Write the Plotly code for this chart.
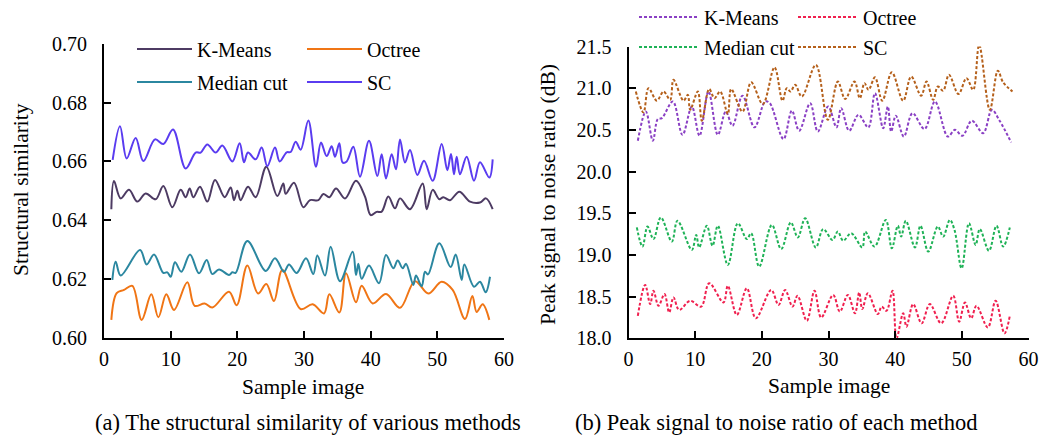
import plotly.graph_objects as go

# ---------------- (a) Structural similarity ----------------
ssim_kmeans_x = [1.1, 1.5, 2.5, 3.75, 5.0, 6.25, 7.75, 8.9, 10.25, 11.5, 12.25, 12.85, 13.4, 14.4, 15.5, 16.65, 18.1, 19.0, 19.5, 20.0, 20.5, 21.6, 22.75, 24.35, 26.0, 26.9, 27.25, 28.5, 29.9, 30.9, 32.15, 32.9, 33.8, 34.8, 36.15, 37.8, 39.15, 40.0, 40.9, 41.65, 42.65, 43.65, 44.4, 45.9, 47.8, 48.4, 49.3, 50.3, 50.9, 51.9, 53.3, 54.9, 56.4, 57.3, 58.3]
ssim_kmeans_y = [0.6437, 0.6533, 0.6474, 0.6503, 0.6463, 0.6491, 0.6471, 0.6516, 0.6444, 0.6503, 0.6478, 0.6508, 0.6478, 0.6514, 0.6463, 0.6537, 0.6478, 0.6511, 0.6468, 0.6500, 0.6468, 0.6514, 0.6478, 0.6582, 0.6482, 0.6525, 0.6490, 0.6527, 0.6444, 0.6468, 0.6468, 0.6489, 0.6478, 0.6508, 0.6474, 0.6534, 0.6480, 0.6417, 0.6428, 0.6429, 0.6480, 0.6440, 0.6474, 0.6437, 0.6525, 0.6437, 0.6503, 0.6471, 0.6478, 0.6468, 0.6497, 0.6463, 0.6460, 0.6474, 0.6437]

ssim_octree_x = [1.1, 1.9, 3.0, 4.25, 5.65, 7.1, 8.15, 9.35, 10.5, 12.5, 13.6, 15.1, 16.25, 18.75, 19.9, 21.5, 23.1, 24.35, 25.5, 26.75, 29.5, 31.3, 33.0, 33.8, 35.3, 36.3, 37.8, 38.65, 40.3, 42.3, 44.4, 46.65, 48.65, 50.65, 52.3, 54.15, 55.25, 55.9, 56.8, 57.8]
ssim_octree_y = [0.6060, 0.6151, 0.6162, 0.6176, 0.6060, 0.6147, 0.6069, 0.6147, 0.6094, 0.6188, 0.6108, 0.6116, 0.6102, 0.6156, 0.6110, 0.6245, 0.6150, 0.6182, 0.6124, 0.6230, 0.6097, 0.6113, 0.6082, 0.6147, 0.6085, 0.6219, 0.6120, 0.6176, 0.6116, 0.6148, 0.6101, 0.6192, 0.6150, 0.6190, 0.6162, 0.6063, 0.6141, 0.6087, 0.6113, 0.6060]

ssim_median_x = [1.25, 1.75, 2.5, 5.4, 6.4, 7.5, 8.9, 9.5, 10.0, 10.65, 11.6, 12.9, 14.25, 15.4, 16.25, 17.25, 18.75, 19.25, 19.75, 21.5, 24.25, 25.65, 27.0, 27.75, 28.9, 30.3, 31.4, 32.0, 33.15, 34.0, 35.4, 37.3, 37.8, 38.15, 38.65, 39.75, 41.25, 42.3, 43.4, 44.05, 44.8, 45.3, 46.4, 46.8, 47.65, 48.15, 48.6, 50.3, 52.0, 52.75, 53.65, 54.05, 55.5, 56.4, 57.25, 57.9]
ssim_median_y = [0.6196, 0.6258, 0.6211, 0.6298, 0.6249, 0.6283, 0.6220, 0.6222, 0.6207, 0.6256, 0.6224, 0.6283, 0.6219, 0.6264, 0.6216, 0.6232, 0.6213, 0.6222, 0.6220, 0.6329, 0.6227, 0.6270, 0.6224, 0.6249, 0.6220, 0.6270, 0.6216, 0.6279, 0.6211, 0.6309, 0.6192, 0.6292, 0.6213, 0.6251, 0.6200, 0.6245, 0.6185, 0.6281, 0.6236, 0.6262, 0.6236, 0.6251, 0.6179, 0.6211, 0.6175, 0.6224, 0.6215, 0.6321, 0.6240, 0.6283, 0.6196, 0.6249, 0.6173, 0.6190, 0.6154, 0.6207]

ssim_sc_x = [1.3, 2.4, 3.4, 4.75, 5.9, 7.65, 8.9, 10.35, 12.25, 13.75, 14.5, 15.5, 16.75, 17.75, 19.25, 20.35, 21.0, 21.6, 22.75, 23.65, 24.5, 25.65, 26.35, 27.4, 28.0, 28.75, 29.5, 30.65, 31.8, 32.55, 33.4, 34.15, 34.65, 35.3, 35.8, 36.4, 37.4, 38.4, 39.75, 41.0, 41.65, 42.3, 43.15, 43.8, 44.4, 45.15, 45.9, 47.0, 48.0, 49.3, 50.65, 51.5, 52.05, 52.5, 52.9, 53.4, 54.4, 55.5, 56.4, 57.8, 58.3]
ssim_sc_y = [0.6605, 0.6720, 0.6610, 0.6680, 0.6601, 0.6675, 0.6659, 0.6709, 0.6576, 0.6630, 0.6630, 0.6658, 0.6630, 0.6654, 0.6600, 0.6662, 0.6597, 0.6630, 0.6607, 0.6647, 0.6584, 0.6647, 0.6600, 0.6631, 0.6632, 0.6667, 0.6640, 0.6739, 0.6582, 0.6664, 0.6618, 0.6652, 0.6616, 0.6662, 0.6596, 0.6600, 0.6650, 0.6548, 0.6670, 0.6550, 0.6624, 0.6542, 0.6624, 0.6573, 0.6675, 0.6596, 0.6639, 0.6554, 0.6602, 0.6534, 0.6659, 0.6570, 0.6625, 0.6556, 0.6616, 0.6556, 0.6616, 0.6534, 0.6597, 0.6545, 0.6607]

# ---------------- (b) PSNR ----------------
psnr_kmeans_x = [1.4, 2.6, 3.65, 4.4, 5.0, 6.65, 8.1, 9.5, 10.65, 12.0, 13.4, 14.6, 15.6, 17.1, 18.9, 20.5, 21.2, 23.25, 24.5, 25.6, 27.25, 28.4, 29.95, 31.2, 31.9, 33.1, 34.5, 35.97, 36.97, 38.2, 38.9, 39.4, 40.1, 41.3, 42.6, 44.4, 45.97, 47.9, 48.97, 50.1, 51.5, 53.2, 54.5, 55.6, 57.4]
psnr_kmeans_y = [20.37, 20.72, 20.37, 20.63, 20.64, 20.84, 20.44, 20.78, 20.43, 20.96, 20.44, 20.72, 20.55, 20.91, 20.53, 20.84, 20.82, 20.39, 20.73, 20.49, 20.82, 20.48, 20.78, 20.53, 20.76, 20.49, 20.68, 20.53, 20.94, 20.52, 20.78, 20.48, 20.67, 20.42, 20.70, 20.51, 20.84, 20.42, 20.50, 20.43, 20.61, 20.46, 20.74, 20.62, 20.35]

psnr_octree_x = [1.4, 2.5, 3.25, 3.75, 4.5, 5.4, 6.1, 6.75, 7.6, 9.25, 10.9, 12.1, 14.25, 14.9, 16.25, 17.75, 19.1, 21.4, 22.5, 23.5, 24.6, 25.35, 26.75, 27.9, 28.9, 30.7, 31.7, 32.9, 33.97, 34.6, 35.07, 35.9, 37.4, 37.97, 38.7, 39.6, 40.2, 41.2, 41.7, 42.7, 43.97, 45.2, 46.9, 48.7, 49.6, 50.47, 51.4, 52.2, 53.9, 55.07, 56.4, 57.2]
psnr_octree_y = [18.27, 18.64, 18.41, 18.57, 18.39, 18.53, 18.31, 18.49, 18.34, 18.45, 18.38, 18.66, 18.43, 18.63, 18.28, 18.60, 18.24, 18.58, 18.40, 18.58, 18.38, 18.51, 18.21, 18.57, 18.25, 18.52, 18.32, 18.52, 18.30, 18.55, 18.35, 18.54, 18.29, 18.38, 18.33, 18.57, 18.00, 18.30, 18.14, 18.41, 18.18, 18.41, 18.18, 18.51, 18.20, 18.43, 18.24, 18.39, 18.13, 18.45, 18.06, 18.27]

psnr_median_x = [1.25, 2.1, 2.85, 3.75, 4.85, 6.5, 7.35, 9.5, 10.15, 10.6, 11.75, 12.6, 13.4, 14.9, 16.4, 17.75, 18.4, 19.6, 21.5, 22.9, 24.35, 25.4, 26.5, 28.1, 29.2, 30.6, 31.4, 32.2, 33.4, 35.07, 35.5, 36.9, 38.6, 39.5, 40.4, 40.9, 41.6, 42.97, 43.8, 44.97, 46.4, 47.2, 48.2, 48.9, 49.97, 51.07, 52.07, 52.7, 54.07, 55.2, 56.2, 57.2]
psnr_median_y = [19.33, 19.10, 19.34, 19.19, 19.45, 19.16, 19.41, 19.06, 19.24, 19.09, 19.35, 19.11, 19.35, 18.88, 19.38, 19.19, 19.26, 18.86, 19.36, 19.07, 19.39, 19.21, 19.44, 19.09, 19.31, 19.18, 19.28, 19.17, 19.26, 19.09, 19.28, 19.10, 19.42, 19.08, 19.35, 19.22, 19.41, 19.09, 19.35, 19.04, 19.34, 19.22, 19.42, 19.30, 18.84, 19.38, 19.12, 19.31, 19.05, 19.35, 19.10, 19.33]

psnr_sc_x = [1.1, 2.25, 3.0, 4.25, 5.25, 6.25, 6.75, 8.25, 8.9, 9.25, 10.4, 11.0, 12.1, 12.9, 13.75, 14.9, 15.4, 17.1, 18.4, 20.15, 21.9, 23.1, 23.75, 24.3, 25.0, 26.0, 28.1, 29.9, 31.4, 32.5, 33.9, 34.7, 35.4, 36.0, 36.97, 38.07, 39.5, 41.2, 42.4, 43.9, 44.7, 45.7, 46.4, 47.2, 48.07, 49.5, 50.7, 51.7, 52.6, 54.2, 55.4, 56.2, 57.6]
psnr_sc_y = [20.96, 20.71, 21.00, 20.85, 20.96, 20.86, 21.10, 20.85, 20.92, 20.74, 20.96, 20.61, 20.99, 20.88, 20.96, 20.69, 20.99, 20.72, 21.07, 20.81, 21.25, 20.85, 21.00, 20.96, 21.04, 20.90, 21.28, 20.62, 21.08, 20.87, 21.08, 20.88, 21.06, 20.98, 21.13, 20.85, 21.19, 20.85, 21.14, 20.91, 21.08, 20.86, 21.02, 20.97, 21.16, 20.93, 21.12, 20.98, 21.52, 20.74, 21.21, 21.07, 20.96]

method_names = ["K-Means", "Octree", "Median cut", "SC"]
ssim_ticks = [0.60, 0.62, 0.64, 0.66, 0.68, 0.70]
psnr_ticks = [18.0, 18.5, 19.0, 19.5, 20.0, 20.5, 21.0, 21.5]
x_ticks = [0, 10, 20, 30, 40, 50, 60]

ssim_colors = ["#4d3b63", "#f07515", "#2b87a0", "#5a3cf0"]
psnr_colors = ["#8a40c4", "#f0204f", "#1fb257", "#b5601b"]

FONT = "Liberation Serif, Times New Roman, serif"
W, H = 1043, 437

fig = go.Figure()

ssim_series = [(ssim_kmeans_x, ssim_kmeans_y), (ssim_octree_x, ssim_octree_y),
               (ssim_median_x, ssim_median_y), (ssim_sc_x, ssim_sc_y)]
psnr_series = [(psnr_kmeans_x, psnr_kmeans_y), (psnr_octree_x, psnr_octree_y),
               (psnr_median_x, psnr_median_y), (psnr_sc_x, psnr_sc_y)]

for i, (xs, ys) in enumerate(ssim_series):
    fig.add_trace(go.Scatter(
        x=xs, y=ys, name=method_names[i], mode="lines",
        line=dict(color=ssim_colors[i], width=2, shape="spline", smoothing=1.0),
        xaxis="x", yaxis="y", legend="legend" if i < 2 else "legend2"))

for i, (xs, ys) in enumerate(psnr_series):
    fig.add_trace(go.Scatter(
        x=xs, y=ys, name=method_names[i], mode="lines",
        line=dict(color=psnr_colors[i], width=2, shape="spline", smoothing=1.0, dash="3px,2px"),
        xaxis="x2", yaxis="y2", legend="legend3" if i < 2 else "legend4"))

def px_x(p):
    return p / W

def px_y(p):
    return 1 - p / H

axis_common = dict(showline=True, linecolor="black", linewidth=2, ticks="inside",
                   ticklen=7, tickwidth=2, tickcolor="black", showgrid=False,
                   zeroline=False, mirror=False, automargin=False,
                   tickfont=dict(family=FONT, size=20, color="black"))

fig.update_layout(
    width=W, height=H, margin=dict(l=0, r=0, t=0, b=0, autoexpand=False),
    paper_bgcolor="white", plot_bgcolor="white",
    xaxis=dict(domain=[px_x(104), px_x(504)], range=[0, 60], tickvals=x_ticks, anchor="y",
               ticklabelstandoff=2, **axis_common),
    yaxis=dict(domain=[px_y(337.5), px_y(44)], range=[0.60, 0.70], tickvals=ssim_ticks,
               tickformat=".2f", anchor="x", ticklabelstandoff=11, **axis_common),
    xaxis2=dict(domain=[px_x(628.5), px_x(1028.5)], range=[0, 60], tickvals=x_ticks, anchor="y2",
                ticklabelstandoff=2, **axis_common),
    yaxis2=dict(domain=[px_y(338.3), px_y(46.5)], range=[18.0, 21.5], tickvals=psnr_ticks,
                tickformat=".1f", anchor="x2", ticklabelstandoff=11, **axis_common),
)

leg_common = dict(orientation="h", xanchor="left", yanchor="middle", bgcolor="rgba(0,0,0,0)",
                  font=dict(family=FONT, size=20, color="black"), entrywidthmode="pixels",
                  itemclick=False, itemdoubleclick=False)
fig.update_layout(
    legend=dict(x=px_x(132), y=px_y(49), entrywidth=100, itemwidth=55, **leg_common),
    legend2=dict(x=px_x(132), y=px_y(82), entrywidth=100, itemwidth=55, **leg_common),
    legend3=dict(x=px_x(634), y=px_y(17), entrywidth=84, itemwidth=60, **leg_common),
    legend4=dict(x=px_x(634), y=px_y(47), entrywidth=84, itemwidth=60, **leg_common),
)

def ann(text, x, y, angle=0, size=20):
    fig.add_annotation(text=text, x=px_x(x), y=px_y(y), xref="paper", yref="paper",
                       showarrow=False, textangle=angle, xanchor="center", yanchor="middle",
                       font=dict(family=FONT, size=size, color="black"))

ann("Structural similarity", 21, 190, -90, 21.5)
ann("Peak signal to noise ratio (dB)", 548, 195, -90, 21.5)
ann("Sample image", 303, 387, 0, 21.5)
ann("Sample image", 829, 386, 0, 21.5)
ann("(a) The structural similarity of various methods", 308, 422, 0, 22.5)
ann("(b) Peak signal to noise ratio of each method", 776, 422, 0, 22.5)

fig.write_html("out.html")
